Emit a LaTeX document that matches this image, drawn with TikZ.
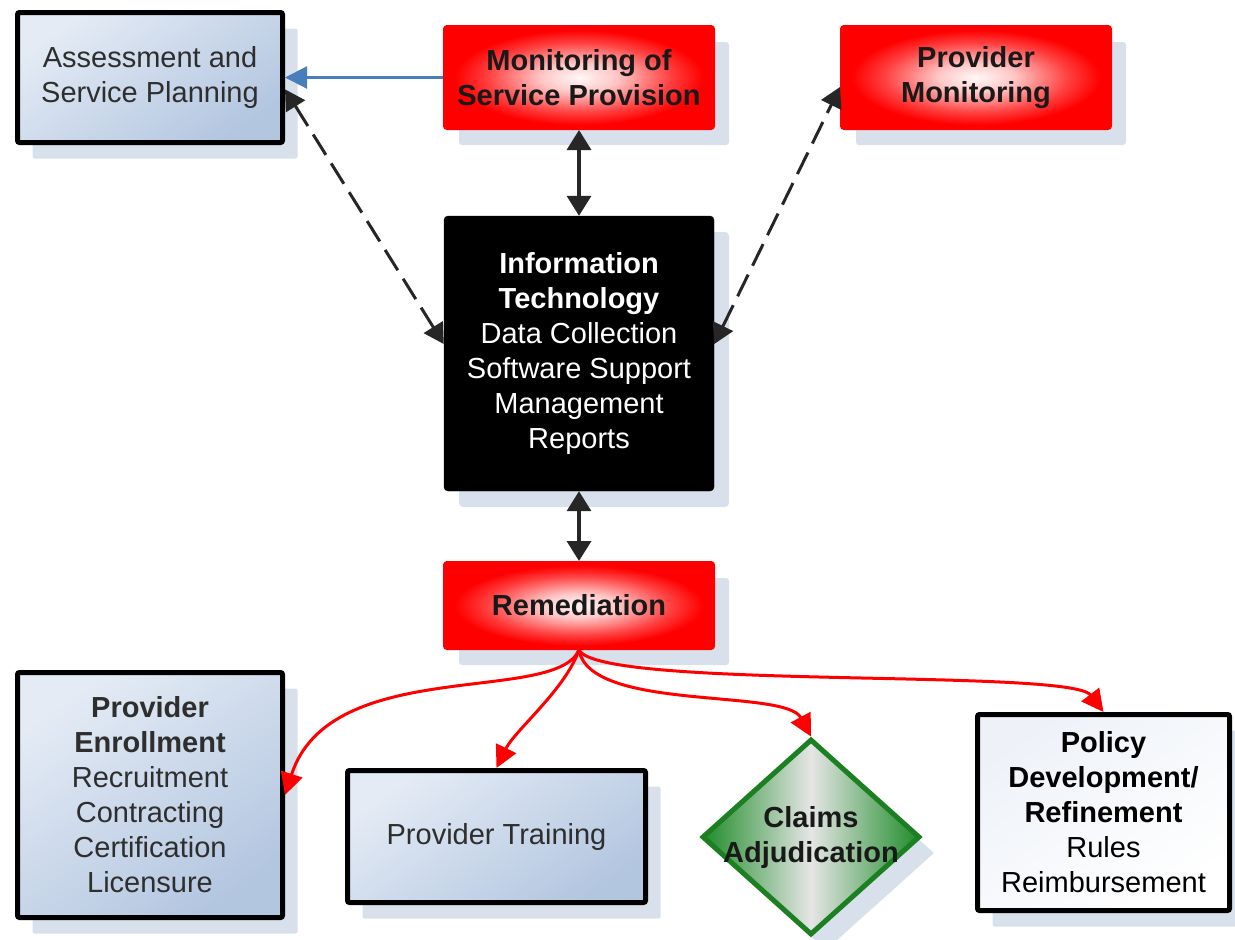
\documentclass[tikz,border=0pt]{standalone}
\usepackage{fontspec}
\setmainfont{Liberation Sans}
\usetikzlibrary{shapes.geometric,arrows.meta,shadows}

\definecolor{shadowc}{HTML}{D8E0EB}
\definecolor{boxlight}{HTML}{E4EBF5}
\definecolor{boxdark}{HTML}{B3C6E0}
\definecolor{linkblue}{HTML}{4A7EBB}
\definecolor{claimgreen}{HTML}{1F8C2A}
\definecolor{claimedge}{HTML}{1C7F22}
\definecolor{textgray}{HTML}{2E2E2E}
\definecolor{paperwhite}{HTML}{EEF2F8}

% red glow: pale centre, saturated rim
\pgfdeclareradialshading{redglow}{\pgfpoint{0bp}{0bp}}{%
  color(0bp)=(red!3!white); color(7bp)=(red!22!white); color(17bp)=(red!75!white);
  color(23bp)=(red); color(50bp)=(red)}

\begin{document}
\begin{tikzpicture}[x=1pt,y=-1pt,
  font=\fontsize{29}{35}\selectfont,
  boxshadow/.style={general shadow={fill=shadowc, shadow xshift=15pt, shadow yshift=-16pt}},
  basebox/.style={rectangle, align=center, inner sep=0pt, boxshadow},
  bluebox/.style={basebox, draw=black, line width=5pt, rounded corners=2pt,
    top color=boxlight, bottom color=boxdark, shading angle=35, text=textgray},
  whitebox/.style={basebox, draw=black, line width=5pt, rounded corners=2pt,
    top color=paperwhite, bottom color=white, shading angle=35, text=black},
  redbox/.style={basebox, draw=red, line width=2pt, rounded corners=3pt,
    shading=redglow, text=black!90, font=\fontsize{29}{35}\selectfont\bfseries,
    minimum width=270pt},
  darkbox/.style={basebox, draw=black, fill=black, rounded corners=4pt, text=white,
    minimum width=270pt, minimum height=275pt},
  claimsdia/.style={diamond, draw=claimedge, line width=5pt, inner sep=0pt,
    left color=claimgreen, right color=claimgreen, middle color=white!90!black,
    minimum width=218pt, minimum height=196pt, boxshadow},
  linkboth/.style={line width=3.5pt, draw=black!85, {Triangle[length=20pt,width=24pt]}-{Triangle[length=20pt,width=24pt]}},
  dashboth/.style={line width=3pt, draw=black!85, dash pattern=on 24pt off 10pt,
    {Triangle[length=20pt,width=22pt]}-{Triangle[length=20pt,width=22pt]}},
  redlink/.style={line width=3pt, draw=red, -{Triangle[length=22pt,width=22pt]}},
  bluelink/.style={line width=2.2pt, draw=linkblue, -{Triangle[length=22pt,width=22pt,fill=linkblue]}}
]
\useasboundingbox (0,0) rectangle (1235,940);

% boxes
\node[bluebox, minimum width=265pt, minimum height=130pt] (assess) at (150,77.5)
  {Assessment and\\Service Planning};
\node[redbox, minimum height=103pt] (monitor) at (579,77.5)
  {Monitoring of\\Service Provision};
\node[redbox, minimum height=103pt] (provmon) at (976,77.5)
  {Provider\\Monitoring};
\node[darkbox] (it) at (579,353.5)
  {\textbf{Information}\\\textbf{Technology}\\Data Collection\\Software Support\\Management\\Reports};
\node[redbox, minimum height=87pt] (remed) at (579,605.5) {Remediation};
\node[bluebox, minimum width=265pt, minimum height=245pt] (enroll) at (150,795)
  {\textbf{Provider}\\\textbf{Enrollment}\\Recruitment\\Contracting\\Certification\\Licensure};
\node[bluebox, minimum width=298pt, minimum height=132pt] (training) at (496.5,836.5)
  {Provider Training};
\node[claimsdia] (claims) at (811,837) {};
\node[align=center, text=black!90, font=\fontsize{29}{35}\selectfont\bfseries] (claimstext) at (claims.center)
  {Claims\\Adjudication};
\node[whitebox, minimum width=252pt, minimum height=196pt] (policy) at (1103.5,812.5)
  {\textbf{Policy}\\\textbf{Development/}\\\textbf{Refinement}\\Rules\\Reimbursement};

% connectors
\draw[bluelink] (monitor.west) -- (assess.east);
\draw[dashboth] (assess.-5) -- (it.176);
\draw[dashboth] (it.4) -- (provmon.184);
\draw[linkboth] (monitor.south) -- (it.north);
\draw[linkboth] (it.south) -- (remed.north);

\draw[redlink] (remed.south) .. controls (555,705) and (330,655) .. (enroll.east);
\draw[redlink] (remed.south) .. controls (565,690) and (515,730) .. (training.north);
\draw[redlink] (remed.south) .. controls (590,712) and (785,688) .. (claims.north);
\draw[redlink] (remed.south) .. controls (600,690) and (1070,668) .. (policy.north);
\end{tikzpicture}
\end{document}
